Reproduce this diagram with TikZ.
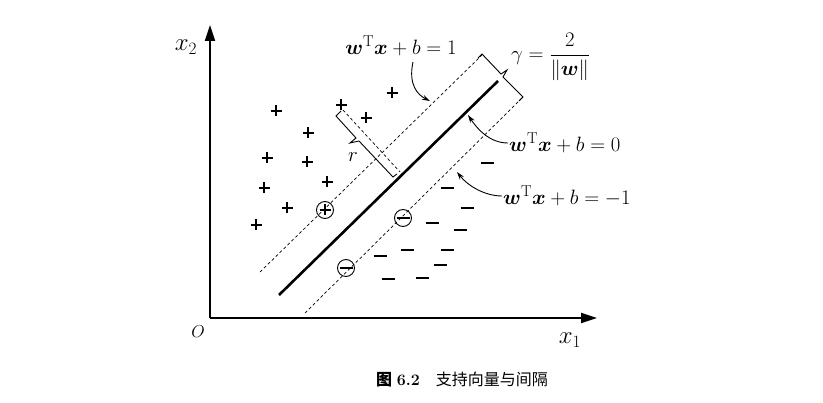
\documentclass[tikz,border=0pt]{standalone}
\usepackage{amsmath,bm}
\usepackage{fontspec}
\newfontfamily\cjk{Noto Sans CJK SC}
\usetikzlibrary{arrows.meta}
\begin{document}
\begin{tikzpicture}[x=1pt,y=-1pt,
  axis/.style={line width=2pt,-{Triangle[length=16pt,width=10pt]}},
  dashline/.style={dash pattern=on 3pt off 2.5pt,line width=0.7pt},
  callout/.style={line width=0.9pt,-{Stealth[length=8pt,width=5pt]}},
  lbl/.style={font=\fontsize{22.5}{26}\selectfont,inner sep=1pt},
  pt/.style={circle,draw,line width=0.9pt,minimum size=17pt,inner sep=0pt}]
\useasboundingbox (0,0) rectangle (823,403);
\newcommand{\pl}[2]{\draw[line width=1.8pt] (#1-5.5,#2) -- (#1+5.5,#2) (#1,#2-5.5) -- (#1,#2+5.5);}
\newcommand{\mn}[2]{\draw[line width=1.8pt] (#1-6.5,#2) -- (#1+6.5,#2);}
% axes
\coordinate (O) at (210,318);
\coordinate (Y) at (210,25);
\coordinate (X) at (597,318);
\draw[axis] (O) -- (Y);
\draw[axis] (O) -- (X);
\node[font=\fontsize{24}{28}\selectfont] (x2) at (186,47) {$x_2$};
\node[font=\fontsize{24}{28}\selectfont] (x1) at (570,340) {$x_1$};
\node[font=\fontsize{19}{22}\selectfont] (o) at (198,332) {$O$};
% lines
\coordinate (s1) at (279,295); \coordinate (s2) at (498,81);
\draw[line width=2.6pt] (s1) -- (s2);
\coordinate (u1) at (260,272); \coordinate (u2) at (482,55);
\draw[dashline] (u1) -- (u2);
\coordinate (l1) at (305,313); \coordinate (l2) at (523,97);
\draw[dashline] (l1) -- (l2);
% gamma bracket
\draw[line width=0.9pt] (478,58) -- (482,54) -- (501,74) -- (507,70) -- (503,77) -- (523,97) -- (519,101);
% r bracket and dashed perpendicular
\draw[dashline] (343,110) -- (400,172);
\draw[line width=0.9pt] (341,111) -- (336,116) -- (356,138) -- (350,143) -- (359,141) -- (393,177) -- (397,174);
\node[lbl] (r) at (353,157) {$r$};
% plus points
\foreach \a/\b in {341/105,392/93,366/118,276/111,308/133,267/158,307/162,264/188,327/182,287/208,256/225}{\pl{\a}{\b}}
\node[pt] (cp) at (325,210) {}; \pl{325}{210}
% minus points
\foreach \a/\b in {487/163,447/188,467/208,432/223,460/230,407/250,380/256,447/250,440/265,388/279,422/278}{\mn{\a}{\b}}
\node[pt] (cm1) at (403,218) {}; \mn{403}{218}
\node[pt] (cm2) at (346,268) {}; \mn{346}{268}
% labels
\node[lbl] (L1) at (401,46) {$\bm{w}^{\mathrm{T}}\bm{x}+b=1$};
\node[lbl,anchor=west] (G) at (510,57) {$\gamma=\dfrac{2}{\|\bm{w}\|}$};
\node[lbl,anchor=west] (L0) at (508,143) {$\bm{w}^{\mathrm{T}}\bm{x}+b=0$};
\node[lbl,anchor=west] (Lm) at (502,196) {$\bm{w}^{\mathrm{T}}\bm{x}+b=-1$};
\coordinate (a1) at (430,101);
\coordinate (a0) at (468,115);
\coordinate (am) at (457,172);
\draw[callout] (413,62) .. controls (408,85) and (418,95) .. (a1);
\draw[callout] (L0.west) .. controls (490,143) and (478,130) .. (a0);
\draw[callout] (Lm.west) .. controls (485,196) and (468,186) .. (am);
% caption
\node[font=\fontsize{16}{19}\selectfont] (cap) at (462,380) {{\cjk\bfseries 图} \textbf{6.2}\quad{\cjk 支持向量与间隔}};
\end{tikzpicture}
\end{document}
